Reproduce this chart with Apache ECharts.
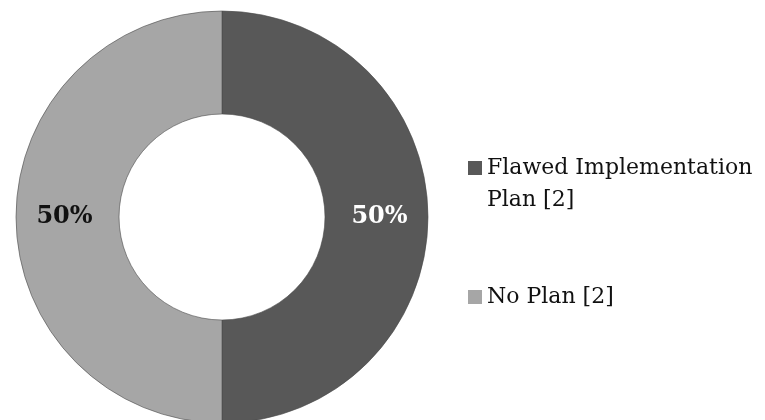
<!DOCTYPE html>
<html>
<head>
<meta charset="utf-8">
<script src="https://cdn.jsdelivr.net/npm/echarts@6/dist/echarts.min.js"></script>
<style>
  html, body { margin: 0; padding: 0; background: #fff; }
  #chart { width: 765px; height: 420px; }
</style>
</head>
<body>
<div id="chart"></div>
<script>
// data
const names = ['Flawed Implementation Plan', 'No Plan'];
const counts = [2, 2];
const colors = ['#585858', '#a6a6a6'];
const labelColors = ['#ffffff', '#111111'];

const serif = '"DejaVu Serif", "Liberation Serif", serif';

const chart = echarts.init(document.getElementById('chart'));

function legendText(name) {
  return name + ' [' + counts[names.indexOf(name)] + ']';
}

const legendBase = {
  orient: 'vertical',
  left: 468,
  padding: 0,
  itemWidth: 14,
  itemHeight: 14,
  itemGap: 0,
  itemStyle: { borderWidth: 0 },
  icon: 'rect',
  selectedMode: false,
  textStyle: {
    fontFamily: serif,
    fontSize: 22,
    color: '#111',
    lineHeight: 32,
    width: 290,
    overflow: 'break'
  }
};

let option = {
  animation: false,
  color: colors,
  legend: [
    // leading blank line keeps the icon level with the first text line
    Object.assign({}, legendBase, {
      top: 120,
      data: [names[0]],
      formatter: name => '\n' + legendText(name)
    }),
    Object.assign({}, legendBase, {
      top: 281,
      data: [names[1]],
      formatter: legendText
    })
  ],
  series: [
    {
      type: 'pie',
      center: [222, 217],
      radius: [103, 206],
      startAngle: 90,
      clockwise: true,
      avoidLabelOverlap: false,
      itemStyle: {
        borderColor: '#4a4a4a',
        borderWidth: 0.6
      },
      label: {
        show: true,
        position: 'inside',
        formatter: '{d}%',
        fontFamily: serif,
        fontSize: 24,
        fontWeight: 'bold'
      },
      labelLine: { show: false },
      emphasis: { disabled: true },
      data: names.map((n, i) => ({
        name: n,
        value: counts[i],
        label: { color: labelColors[i] }
      }))
    }
  ]
};

chart.setOption(option);
</script>
</body>
</html>
